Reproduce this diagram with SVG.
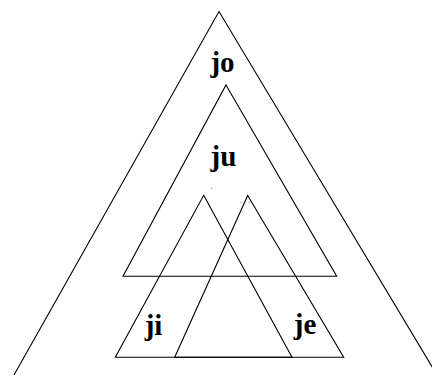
<svg xmlns="http://www.w3.org/2000/svg" width="432" height="376" viewBox="0 0 432 376">
<style>
.tri{fill:none;stroke:#000;stroke-width:1.1;stroke-linejoin:miter}
.lbl{font-family:"Liberation Serif","Times New Roman",serif;font-weight:bold;font-size:29px;fill:#000;text-anchor:middle}
.dot{fill:#777}
</style>
<rect width="432" height="376" fill="#fff"/>
<g id="connectors"></g>
<g id="jo">
<polyline class="tri" points="14,375 219,11.5 437,375"/>
<text class="lbl" x="222.5" y="72">jo</text>
</g>
<g id="ju">
<polygon class="tri" points="226,85 336.7,276.3 123,276.3"/>
<text class="lbl" x="223.5" y="166">ju</text>
<circle class="dot" cx="211.7" cy="188.3" r="0.6"/>
</g>
<g id="ji">
<polygon class="tri" points="203.7,195.3 292,357.3 115.3,357.3"/>
<text class="lbl" x="153.5" y="335">ji</text>
</g>
<g id="je">
<polygon class="tri" points="247.7,195.5 343.7,357.3 174.7,357.3"/>
<text class="lbl" x="305" y="333.5">je</text>
<circle class="dot" cx="241" cy="202.3" r="0.6"/>
<circle class="dot" cx="249" cy="202.3" r="0.6"/>
</g>
</svg>
